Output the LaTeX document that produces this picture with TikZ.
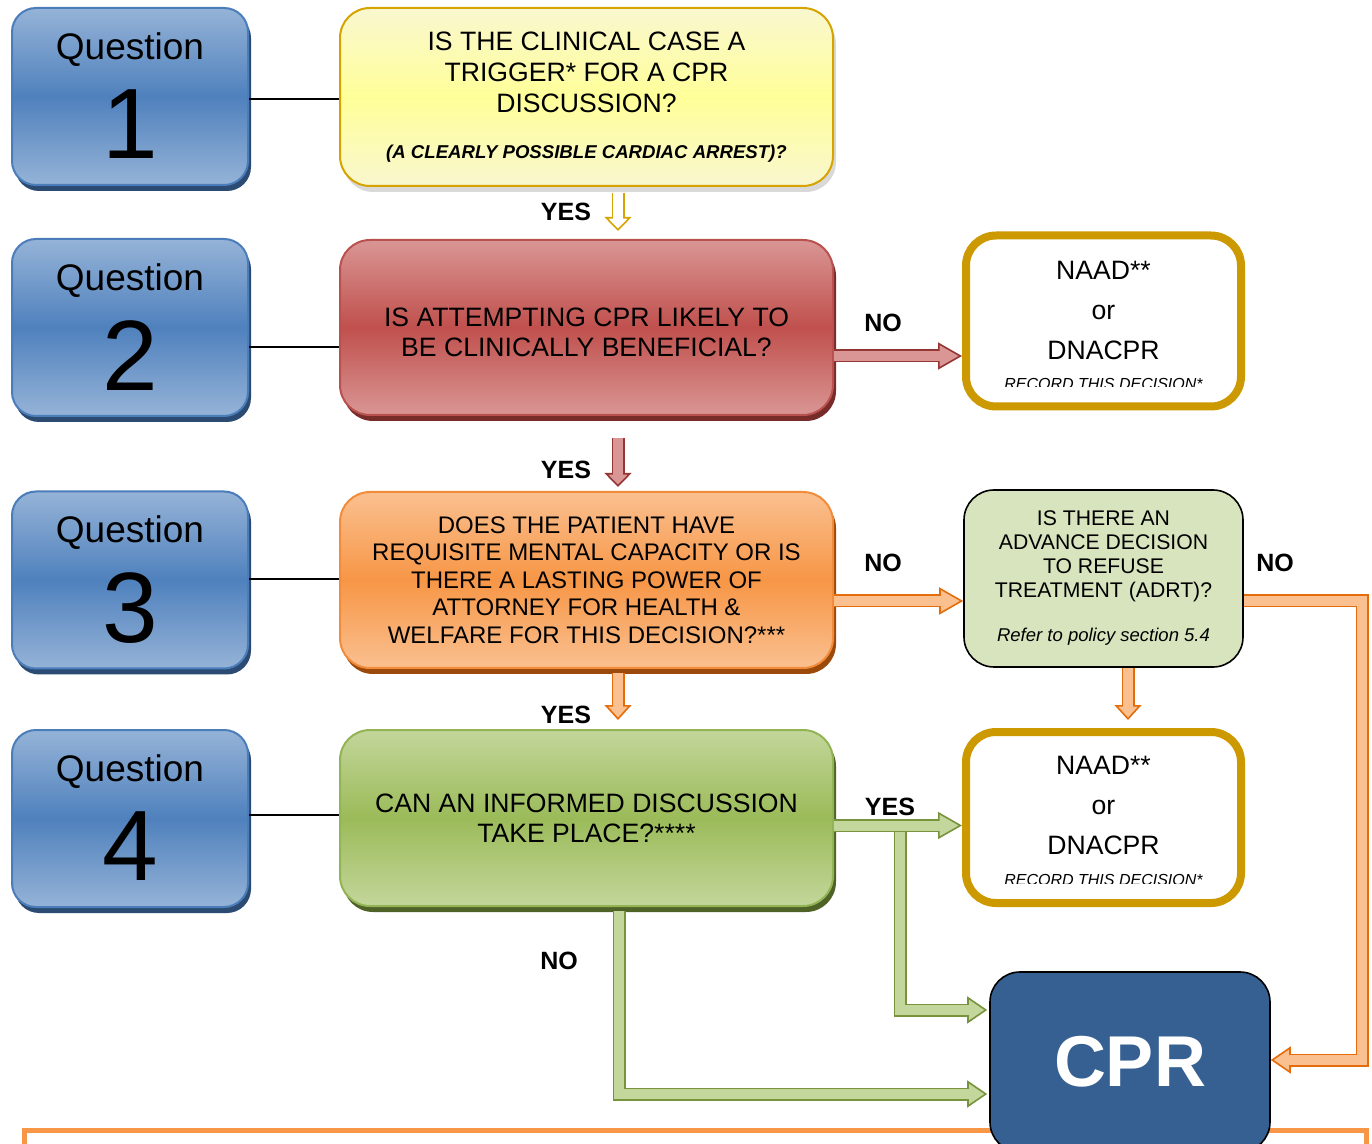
\documentclass[tikz,border=0pt]{standalone}
\usepackage{fontspec}
\setmainfont{Liberation Sans}
\usepackage{tikz}
\usetikzlibrary{arrows.meta,calc,shadows}

\definecolor{qlight}{HTML}{95B3D7}
\definecolor{qmid}{HTML}{4F81BD}
\definecolor{qedge}{HTML}{4A7DBA}
\definecolor{qdark}{HTML}{2B4B73}
\definecolor{ylight}{HTML}{F9F7CF}
\definecolor{ymid}{HTML}{FFFF99}
\definecolor{yedge}{HTML}{D6A300}
\definecolor{ydark}{HTML}{D9D9D9}
\definecolor{rlight}{HTML}{D99694}
\definecolor{rmid}{HTML}{C0504D}
\definecolor{redge}{HTML}{B9514E}
\definecolor{rdark}{HTML}{772C2A}
\definecolor{olight}{HTML}{FAC090}
\definecolor{omid}{HTML}{F79646}
\definecolor{oedge}{HTML}{F28C3A}
\definecolor{odark}{HTML}{9C4A0B}
\definecolor{glight}{HTML}{C3D69B}
\definecolor{gmid}{HTML}{9BBB59}
\definecolor{gedge}{HTML}{93B454}
\definecolor{gdark}{HTML}{4F6228}
\definecolor{naadedge}{HTML}{CC9900}
\definecolor{adrtfill}{HTML}{D7E4BD}
\definecolor{cprfill}{HTML}{376092}
\definecolor{rarrow}{HTML}{943634}
\definecolor{oarrow}{HTML}{E46C0A}
\definecolor{garrow}{HTML}{77933C}
\definecolor{framecol}{HTML}{F79646}

\newcommand\fatarrow[4][12pt]{%
  \draw[line width=6.5pt, draw=#2, -{Triangle[length=#1, width=13.5pt, line width=0.8pt, fill=#3]}] #4;
  \draw[line width=5pt, draw=#3, shorten >=#1-1pt] #4;}

\begin{document}
\begin{tikzpicture}[x=0.5pt, y=-0.5pt,
    box/.style={rounded corners=15pt, align=center, inner sep=0pt},
    shaded box/.style n args={4}{box, line width=1pt, top color=#1, bottom color=#1, middle color=#2, draw=#3,
      drop shadow={shadow xshift=1.5pt, shadow yshift=-3pt, fill=#4, opacity=1}},
    qbox/.style={shaded box={qlight}{qmid}{qedge}{qdark}, rounded corners=12pt,
      minimum width=118pt, minimum height=88.5pt},
    qword/.style={font=\fontsize{18.5}{20}\selectfont},
    qnum/.style={font=\fontsize{50}{50}\selectfont},
    mainbox/.style={minimum width=246.5pt, minimum height=88pt, font=\fontsize{13.3}{15}\selectfont},
    naadbox/.style={box, draw=naadedge, line width=4pt, fill=white, minimum width=137.5pt, minimum height=85.5pt},
    naadtext/.style={align=center, font=\fontsize{13.3}{20}\selectfont},
    recordtext/.style={font=\fontsize{8}{8}\selectfont\itshape},
    answer/.style={font=\fontsize{12.5}{14}\selectfont\bfseries}]

    \useasboundingbox (0,0) rectangle (1372,1144);

    \foreach \n/\y in {1/96.5, 2/327.5, 3/580, 4/818.5} {
        \node[qbox] (q\n) at (130,\y) {};
        \node[qword] (qw\n) at (130,\y-47) {Question};
        \node[qnum] (qn\n) at (130,\y+28) {\n};
    }

    \node[mainbox, shaded box={ylight}{ymid}{yedge}{ydark}, minimum height=89pt,
        font=\fontsize{13.3}{15.5}\selectfont] (trig) at (586.5,97)
        {IS THE CLINICAL CASE A\\TRIGGER* FOR A CPR\\DISCUSSION?\\[7.5pt]
         {\fontsize{9.3}{11}\selectfont\bfseries\itshape (A CLEARLY POSSIBLE CARDIAC ARREST)?}};
    \node[mainbox, shaded box={rlight}{rmid}{redge}{rdark}, minimum height=87.5pt] (benef) at (586.5,327.5)
        {\rule{0pt}{14.5pt}IS ATTEMPTING CPR LIKELY TO\\BE CLINICALLY BENEFICIAL?};
    \node[mainbox, shaded box={olight}{omid}{oedge}{odark}, font=\fontsize{12}{13.75}\selectfont] (capac) at (586.5,580)
        {DOES THE PATIENT HAVE\\REQUISITE MENTAL CAPACITY OR IS\\THERE A LASTING POWER OF\\ATTORNEY FOR HEALTH \&\\WELFARE FOR THIS DECISION?***};
    \node[mainbox, shaded box={glight}{gmid}{gedge}{gdark}] (discuss) at (586.5,818)
        {CAN AN INFORMED DISCUSSION\\TAKE PLACE?****};

    \foreach \n/\m/\ly in {1/trig/99, 2/benef/347, 3/capac/579, 4/discuss/815}
        \draw[line width=0.8pt] (q\n.east |- 0,\ly) -- (\m.west |- 0,\ly);

    \node[naadbox] (naad1) at (1103.5,321) {};
    \node[naadtext] (nt1) at (1103.5,310) {NAAD**\\or\\DNACPR};
    \begin{scope}
        \clip (950,360) rectangle (1250,387);
        \node[recordtext] (rec1) at (1103.5,384) {RECORD THIS DECISION*};
    \end{scope}

    \node[box, draw=black, line width=0.8pt, fill=adrtfill, minimum width=139.5pt, minimum height=88.5pt,
        font=\fontsize{10.6}{12}\selectfont] (adrt) at (1103.5,578.5)
        {IS THERE AN\\ADVANCE DECISION\\TO REFUSE\\TREATMENT (ADRT)?\\[10pt]
         {\fontsize{9.25}{11}\selectfont\itshape Refer to policy section 5.4}};

    \node[naadbox] (naad2) at (1103.5,817.5) {};
    \node[naadtext] (nt2) at (1103.5,805.5) {NAAD**\\or\\DNACPR};
    \begin{scope}
        \clip (950,860) rectangle (1250,883);
        \node[recordtext] (rec2) at (1103.5,880) {RECORD THIS DECISION*};
    \end{scope}

    \node[draw=framecol, line width=2.5pt, minimum width=671pt, minimum height=60pt] (notes) at (695,1190) {};
    \node[box, draw=black, line width=0.8pt, fill=cprfill, minimum width=140pt, minimum height=90pt,
        text=white, font=\fontsize{36}{36}\selectfont\bfseries] (cpr) at (1130,1062) {CPR};

    \coordinate (ax) at (618,0);
    \coordinate (rail) at (1362,1060);
    \coordinate (fork) at (900,825);

    \fatarrow[7pt]{yedge}{white}{($(trig.south -| ax)+(0,6)$) -- ($(benef.north -| ax)+(0,-8)$)}
    \fatarrow[7pt]{rarrow}{rlight}{($(benef.south -| ax)+(0,22)$) -- ($(capac.north -| ax)+(0,-4)$)}
    \fatarrow[7.5pt]{oarrow}{olight}{($(capac.south -| ax)+(0,4)$) -- ($(discuss.north -| ax)+(0,-9)$)}
    \fatarrow{rarrow}{rlight}{($(benef.east)+(0,28.5)$) -- ($(benef.east -| naad1.west)+(0,28.5)$)}
    \fatarrow{oarrow}{olight}{($(capac.east)+(0,21)$) -- ($(capac.east -| adrt.west)+(0,21)$)}
    \fatarrow[7.5pt]{oarrow}{olight}{($(adrt.south)+(24.5,0)$) -- ($(adrt.south |- naad2.north)+(24.5,-8)$)}
    \fatarrow[10pt]{oarrow}{olight}{($(adrt.east)+(0,22.5)$) -| (rail) -- (rail -| cpr.east)}
    \fatarrow[10pt]{garrow}{glight}{(fork) |- ($(cpr.west)+(-2,-52)$)}
    \fatarrow{garrow}{glight}{($(discuss.east)+(0,7.5)$) -- ($(discuss.east -| naad2.west)+(0,7.5)$)}
    \fatarrow[10pt]{garrow}{glight}{($(discuss.south)+(32.5,4)$) |- ($(cpr.west)+(-2,32)$)}

    \node[answer] (yes1) at (566,212) {YES};
    \node[answer] (yes2) at (566,470) {YES};
    \node[answer] (yes3) at (566,715) {YES};
    \node[answer] (no1) at (883,323) {NO};
    \node[answer] (no2) at (883,563) {NO};
    \node[answer] (no3) at (1275,563) {NO};
    \node[answer] (yes4) at (890,807) {YES};
    \node[answer] (no4) at (559,961) {NO};
\end{tikzpicture}
\end{document}
